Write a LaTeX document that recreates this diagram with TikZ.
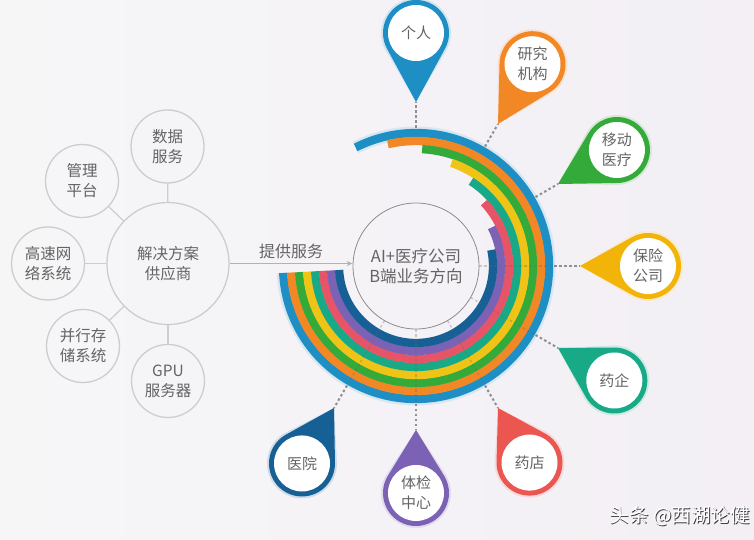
\documentclass[tikz,border=0pt]{standalone}
\usepackage{fontspec}
\setmainfont{Noto Sans CJK SC}
\usetikzlibrary{calc,arrows.meta}
\definecolor{bgL}{RGB}{246,246,247}
\definecolor{bgR}{RGB}{243,239,245}
\definecolor{txt}{RGB}{100,100,100}
\definecolor{cBlue}{RGB}{30,143,196}
\definecolor{cOrange}{RGB}{242,135,38}
\definecolor{cGreen}{RGB}{52,170,58}
\definecolor{cYellow}{RGB}{240,196,22}
\definecolor{cTeal}{RGB}{24,170,135}
\definecolor{cPink}{RGB}{230,84,104}
\definecolor{cPurple}{RGB}{124,98,180}
\definecolor{cDark}{RGB}{22,96,150}
\definecolor{cGold}{RGB}{243,180,10}
\definecolor{cRed}{RGB}{236,86,80}
\definecolor{lgray}{RGB}{205,205,205}
\tikzset{
  ring/.style={line width=8.3pt},
  bubble/.style={circle, draw=lgray, line width=1.3pt, minimum size=73pt, inner sep=0pt,
    align=center, text=txt, font=\fontsize{15.5}{20}\selectfont},
  pinin/.style={circle, fill=white, minimum size=56pt, inner sep=0pt, align=center,
    text=txt, font=\fontsize{15}{20}\selectfont},
  spoke/.style={draw=lgray, line width=1.2pt},
  dashline/.style={draw=black!60, line width=2pt, dash pattern=on 2.5pt off 2.5pt, opacity=0.7},
  faintline/.style={draw=black!60, line width=1.5pt, dash pattern=on 2.5pt off 2.5pt, opacity=0.3},
}
\newcommand{\mypin}[5]{%
  \coordinate (#1tip) at ($(C)+(#2:164pt)$);
  \coordinate (#1base) at ($(C)+(#2:138pt)$);
  \coordinate (#1c) at ($(C)+(#2:#3)$);
  \pgfmathsetmacro\pinA{#2+180+60.5}
  \fill[#4!35, opacity=0.5] (#1tip) -- ([shift={(\pinA:35pt)}]#1c) arc[start angle=\pinA, delta angle=239, radius=35pt] -- cycle;
  \fill[#4] (#1tip) -- ([shift={(\pinA:33pt)}]#1c) arc[start angle=\pinA, delta angle=239, radius=33pt] -- cycle;
  \node[pinin] (#1) at (#1c) {#5};
  \draw[dashline] (#1base) -- (#1tip);
}
\begin{document}
\begin{tikzpicture}[x=1pt,y=1pt]
\shade[left color=bgL, right color=bgR] (0,0) rectangle (754,540);
\useasboundingbox (0,0) rectangle (754,540);
\coordinate (C) at (416,274);
% glow of outer ring
\draw[line width=13pt, cBlue!30, opacity=0.5] ([shift={(183:133pt)}]C) arc[start angle=183, end angle=477, radius=133pt];
% rings
\draw[ring, cBlue]   ([shift={(183:133pt)}]C) arc[start angle=183, end angle=477, radius=133pt];
\draw[ring, cOrange] ([shift={(183:125pt)}]C) arc[start angle=183, end angle=463, radius=125pt];
\draw[ring, cGreen]  ([shift={(183:117pt)}]C) arc[start angle=183, end angle=447, radius=117pt];
\draw[ring, cYellow] ([shift={(183:109pt)}]C) arc[start angle=183, end angle=431, radius=109pt];
\draw[ring, cTeal]   ([shift={(183:101pt)}]C) arc[start angle=183, end angle=417, radius=101pt];
\draw[ring, cPink]   ([shift={(183:93pt)}]C) arc[start angle=183, end angle=403, radius=93pt];
\draw[ring, cPurple] ([shift={(183:85pt)}]C) arc[start angle=183, end angle=387, radius=85pt];
\draw[ring, cDark]   ([shift={(183:77pt)}]C) arc[start angle=183, end angle=372, radius=77pt];
% center circle
\node[circle, draw=black!45, line width=0.8pt, minimum size=126pt, inner sep=0pt, align=center,
  text=txt, font=\fontsize{16.5}{20}\selectfont] (center) at (C) {AI+医疗公司\\B端业务方向};
% faint guide lines across the rings
\foreach \a in {0,-30,-60,-90,-120}{
  \draw[faintline] (center.\a) -- ($(C)+(\a:137pt)$);
}
% pins
\mypin{p1}{90}{233pt}{cBlue}{个人}
\mypin{p2}{60}{233pt}{cOrange}{研究\\机构}
\mypin{p3}{30}{232pt}{cGreen}{移动\\医疗}
\mypin{p4}{0}{232pt}{cGold}{保险\\公司}
\mypin{p5}{-30}{229pt}{cTeal}{药企}
\mypin{p6}{-60}{227pt}{cRed}{药店}
\mypin{p7}{-90}{227pt}{cPurple}{体检\\中心}
\mypin{p8}{-120}{228pt}{cDark}{医院}
% left cluster
\node[bubble, minimum size=122pt] (main) at (168,276.5) {解决方案\\供应商};
\node[bubble] (b1) at (167.5,393.5) {数据\\服务};
\node[bubble] (b2) at (82,359) {管理\\平台};
\node[bubble] (b3) at (48,276.5) {高速网\\络系统};
\node[bubble] (b4) at (83,194) {并行存\\储系统};
\node[bubble] (b5) at (168,159) {GPU\\服务器};
\draw[spoke] (main) -- (b1);
\draw[spoke] (main) -- (b2);
\draw[spoke] (main) -- (b3);
\draw[spoke] (main) -- (b4);
\draw[spoke] (main) -- (b5);
\draw[draw=black!30, line width=1pt, -{Stealth[length=6pt,width=5pt]}] (main.east) -- (main.east -| center.west)
  node[midway, above=1pt, text=txt, font=\fontsize{16}{18}\selectfont] (lbl) {提供服务};
% watermark
\node[text=black!75, font=\fontsize{19.5}{22}\selectfont] (wmshadow) at (680.8,23.2) {头条 @西湖论健};
\node[text=white, font=\fontsize{19.5}{22}\selectfont] (wm) at (680,24) {头条 @西湖论健};
\end{tikzpicture}
\end{document}
